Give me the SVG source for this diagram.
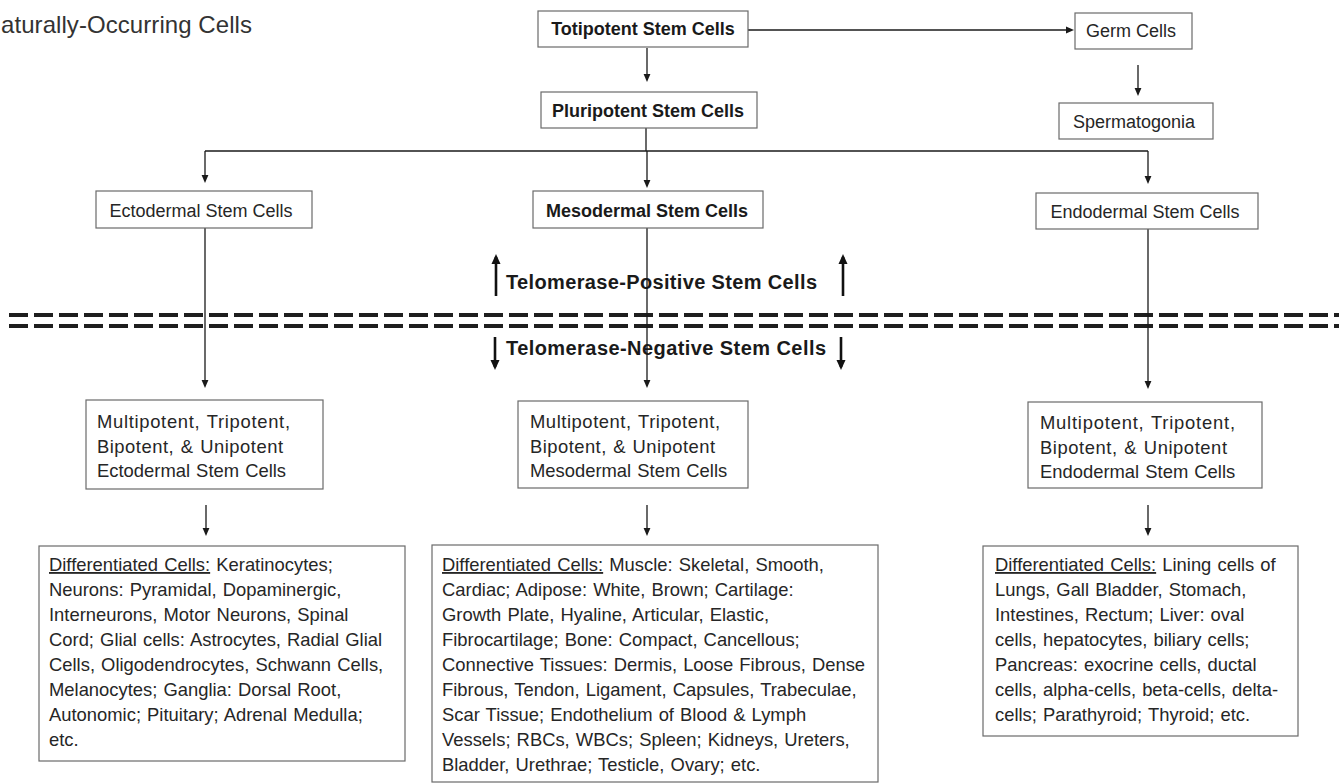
<svg xmlns="http://www.w3.org/2000/svg" width="1339" height="783" viewBox="0 0 1339 783">
<style>
.box{fill:#fff;stroke:#6a6a6a;stroke-width:1.2}
.t{font-family:"Liberation Sans",Arial,sans-serif;font-size:18px;fill:#262626}
.p{font-size:18.4px;word-spacing:1px}
.b{font-weight:bold;fill:#1a1a1a}
.c{text-anchor:middle}
.conn{stroke:#1a1a1a;stroke-width:1.3;fill:none}
.thick{stroke:#111;stroke-width:2.6;fill:none}
.dash{stroke:#1e1e1e;stroke-width:4;stroke-dasharray:19 6;fill:none}
.u{text-decoration:underline}
</style>
<defs>
<marker id="ah" viewBox="0 0 8 8" refX="5" refY="4" markerWidth="8" markerHeight="8" markerUnits="userSpaceOnUse" orient="auto">
<path d="M0,0.6 L8,4 L0,7.4 z" fill="#1a1a1a"/>
</marker>
<marker id="ahb" viewBox="0 0 10 10" refX="7" refY="5" markerWidth="10" markerHeight="10" markerUnits="userSpaceOnUse" orient="auto">
<path d="M0,0.5 L10,5 L0,9.5 z" fill="#111"/>
</marker>
</defs>
<rect width="1339" height="783" fill="#fff"/>

<text class="t" x="1" y="33" style="font-size:24px;fill:#333" textLength="251">aturally-Occurring Cells</text>

<g id="telomerase-divider">
<line class="dash" x1="9" y1="315" x2="1339" y2="315"/>
<line class="dash" x1="9" y1="326" x2="1339" y2="326"/>
<text class="t b" x="506" y="289" style="font-size:20px" textLength="311">Telomerase-Positive Stem Cells</text>
<text class="t b" x="506" y="355" style="font-size:20px" textLength="320">Telomerase-Negative Stem Cells</text>
<line class="thick" x1="496" y1="296" x2="496" y2="257" marker-end="url(#ahb)"/>
<line class="thick" x1="843" y1="296" x2="843" y2="257" marker-end="url(#ahb)"/>
<line class="thick" x1="495" y1="337" x2="495" y2="367" marker-end="url(#ahb)"/>
<line class="thick" x1="841" y1="337" x2="841" y2="367" marker-end="url(#ahb)"/>
</g>

<g id="connectors">
<line class="conn" x1="647" y1="48" x2="647" y2="79" marker-end="url(#ah)"/>
<line class="conn" x1="748" y1="30" x2="1071" y2="30" marker-end="url(#ah)"/>
<line class="conn" x1="1138" y1="65" x2="1138" y2="93" marker-end="url(#ah)"/>
<line class="conn" x1="646" y1="128" x2="646" y2="151"/>
<line class="conn" x1="205" y1="151" x2="1148" y2="151"/>
<line class="conn" x1="205" y1="151" x2="205" y2="180" marker-end="url(#ah)"/>
<line class="conn" x1="647" y1="151" x2="647" y2="185" marker-end="url(#ah)"/>
<line class="conn" x1="1148" y1="151" x2="1148" y2="181" marker-end="url(#ah)"/>
<line class="conn" x1="205" y1="228" x2="205" y2="385" marker-end="url(#ah)"/>
<line class="conn" x1="647" y1="228" x2="647" y2="385" marker-end="url(#ah)"/>
<line class="conn" x1="1148" y1="229" x2="1148" y2="386" marker-end="url(#ah)"/>
<line class="conn" x1="206" y1="505" x2="206" y2="533" marker-end="url(#ah)"/>
<line class="conn" x1="647" y1="505" x2="647" y2="533" marker-end="url(#ah)"/>
<line class="conn" x1="1148" y1="505" x2="1148" y2="533" marker-end="url(#ah)"/>
</g>

<g id="totipotent">
<rect class="box" x="538" y="11" width="210" height="36"/>
<text class="t b c" x="643" y="35">Totipotent Stem Cells</text>
</g>
<g id="pluripotent">
<rect class="box" x="541" y="92" width="216" height="36"/>
<text class="t b c" x="648" y="117">Pluripotent Stem Cells</text>
</g>
<g id="germ">
<rect class="box" x="1075" y="13" width="117" height="36"/>
<text class="t c" x="1131" y="37">Germ Cells</text>
</g>
<g id="spermatogonia">
<rect class="box" x="1059" y="103" width="154" height="36"/>
<text class="t c" x="1134" y="128">Spermatogonia</text>
</g>
<g id="ectodermal">
<rect class="box" x="96" y="191" width="216" height="37"/>
<text class="t c" x="201" y="217">Ectodermal Stem Cells</text>
</g>
<g id="mesodermal">
<rect class="box" x="533" y="191" width="230" height="37"/>
<text class="t b c" x="647" y="217">Mesodermal Stem Cells</text>
</g>
<g id="endodermal">
<rect class="box" x="1036" y="193" width="222" height="36"/>
<text class="t c" x="1145" y="218">Endodermal Stem Cells</text>
</g>

<g id="multi-ecto">
<rect class="box" x="86" y="400" width="237" height="89"/>
<text class="t p" x="97" y="428" textLength="193">Multipotent, Tripotent,</text>
<text class="t p" x="97" y="453" textLength="186">Bipotent, &amp; Unipotent</text>
<text class="t p" x="97" y="477">Ectodermal Stem Cells</text>
</g>
<g id="multi-meso">
<rect class="box" x="518" y="401" width="230" height="87"/>
<text class="t p" x="530" y="428" textLength="190">Multipotent, Tripotent,</text>
<text class="t p" x="530" y="453" textLength="185">Bipotent, &amp; Unipotent</text>
<text class="t p" x="530" y="477">Mesodermal Stem Cells</text>
</g>
<g id="multi-endo">
<rect class="box" x="1028" y="402" width="234" height="86"/>
<text class="t p" x="1040" y="429" textLength="195">Multipotent, Tripotent,</text>
<text class="t p" x="1040" y="454" textLength="187">Bipotent, &amp; Unipotent</text>
<text class="t p" x="1040" y="478">Endodermal Stem Cells</text>
</g>

<g id="diff-ecto">
<rect class="box" x="39" y="546" width="366" height="215"/>
<text class="t p" x="49" y="571"><tspan class="u">Differentiated Cells:</tspan> Keratinocytes;</text>
<text class="t p" x="49" y="596">Neurons: Pyramidal, Dopaminergic,</text>
<text class="t p" x="49" y="621">Interneurons, Motor Neurons, Spinal</text>
<text class="t p" x="49" y="646">Cord; Glial cells: Astrocytes, Radial Glial</text>
<text class="t p" x="49" y="671">Cells, Oligodendrocytes, Schwann Cells,</text>
<text class="t p" x="49" y="696">Melanocytes; Ganglia: Dorsal Root,</text>
<text class="t p" x="49" y="721">Autonomic; Pituitary; Adrenal Medulla;</text>
<text class="t p" x="49" y="746">etc.</text>
</g>
<g id="diff-meso">
<rect class="box" x="432" y="545" width="446" height="237"/>
<text class="t p" x="442" y="571"><tspan class="u">Differentiated Cells:</tspan> Muscle: Skeletal, Smooth,</text>
<text class="t p" x="442" y="596">Cardiac; Adipose: White, Brown; Cartilage:</text>
<text class="t p" x="442" y="621">Growth Plate, Hyaline, Articular, Elastic,</text>
<text class="t p" x="442" y="646">Fibrocartilage; Bone: Compact, Cancellous;</text>
<text class="t p" x="442" y="671">Connective Tissues: Dermis, Loose Fibrous, Dense</text>
<text class="t p" x="442" y="696">Fibrous, Tendon, Ligament, Capsules, Trabeculae,</text>
<text class="t p" x="442" y="721">Scar Tissue; Endothelium of Blood &amp; Lymph</text>
<text class="t p" x="442" y="746">Vessels; RBCs, WBCs; Spleen; Kidneys, Ureters,</text>
<text class="t p" x="442" y="771">Bladder, Urethrae; Testicle, Ovary; etc.</text>
</g>
<g id="diff-endo">
<rect class="box" x="983" y="546" width="315" height="190"/>
<text class="t p" x="995" y="571"><tspan class="u">Differentiated Cells:</tspan> Lining cells of</text>
<text class="t p" x="995" y="596">Lungs, Gall Bladder, Stomach,</text>
<text class="t p" x="995" y="621">Intestines, Rectum; Liver: oval</text>
<text class="t p" x="995" y="646">cells, hepatocytes, biliary cells;</text>
<text class="t p" x="995" y="671">Pancreas: exocrine cells, ductal</text>
<text class="t p" x="995" y="696">cells, alpha-cells, beta-cells, delta-</text>
<text class="t p" x="995" y="721">cells; Parathyroid; Thyroid; etc.</text>
</g>
</svg>
